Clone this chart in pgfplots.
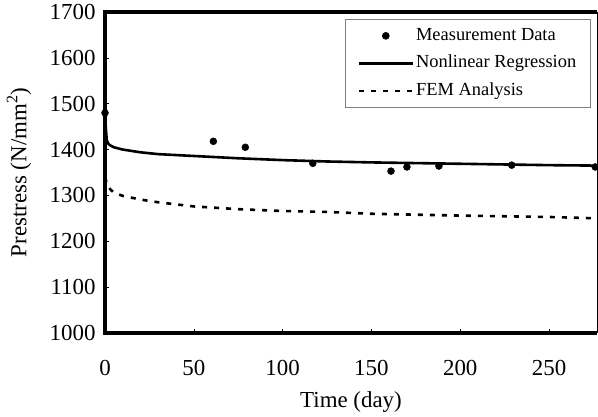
\documentclass[border=0pt]{standalone}
\usepackage{fontspec}
\setmainfont{Liberation Serif}
\usepackage{pgfplots}
\pgfplotsset{compat=1.18}
\usetikzlibrary{calc}

\begin{document}
\begin{tikzpicture}
\begin{axis}[
    scale only axis, width=492bp, height=321bp,
    xmin=0, xmax=277, ymin=1000, ymax=1700,
    xtick={0,50,...,250}, ytick={1000,1100,...,1700},
    xtick pos=bottom, ytick pos=left,
    tick align=inside, major tick length=4bp,
    every tick/.style={black, line width=0.6bp},
    axis line style={draw=none},
    clip=false,
    font=\fontsize{23}{27}\selectfont,
    /pgf/number format/assume math mode=true,
    /pgf/number format/1000 sep={},
    xticklabel shift=24bp,
    yticklabel shift=6bp,
    xlabel={Time (day)},
    ylabel={Prestress (N/mm\textsuperscript{2})},
    xlabel style={at={(axis description cs:0.5,-0.233)}, anchor=base},
    ylabel style={at={(axis description cs:-0.16,0.5)}, anchor=base},
    legend style={at={(axis description cs:0.987,0.978)}, anchor=north east,
        draw=gray, line width=0.6bp, font=\fontsize{18.5}{22}\selectfont,
        inner xsep=12bp, inner ysep=6bp, row sep=6.5bp,
        nodes={inner xsep=2bp, inner ysep=2bp, text height=13bp, text depth=4bp},
        cells={anchor=west}},
    legend image code/.code={\draw[mark repeat=2,mark phase=2,#1] plot coordinates {(0bp,0bp) (27bp,0bp) (54bp,0bp)};},
]
% measured points
\addplot[black, only marks, mark=*, mark size=3.5bp] coordinates {
    (0,1480) (61,1418) (79,1405) (117,1370) (161,1353)
    (170,1362) (188,1364) (229,1366) (276,1362)
};
\addlegendentry{Measurement Data}

% regression curve
\addplot[black, line width=2.6bp] coordinates {
    (0,1480) (0.5,1445) (1,1420) (2,1412) (3,1409) (5,1405) (10,1400)
    (20,1394) (30,1390) (50,1386) (75,1381) (100,1377) (125,1374)
    (150,1372) (200,1369) (250,1366) (277,1365)
};
\addlegendentry{Nonlinear Regression}

% FEM result
\addplot[black, line width=2.6bp, dash pattern=on 5bp off 7bp] coordinates {
    (0,1340) (1,1327) (3,1313) (5,1306) (10,1299) (20,1291) (30,1285)
    (50,1276) (75,1270) (100,1266) (125,1264) (150,1260) (175,1258)
    (200,1256) (250,1253) (277,1250)
};
\addlegendentry{FEM Analysis}

\draw[line width=3.2bp] (rel axis cs:1,1) -- (rel axis cs:0,1) -- (rel axis cs:0,0) -- (rel axis cs:1,0);
\draw[line width=0.8bp] (rel axis cs:1,0) -- (rel axis cs:1,1);
\coordinate (bl) at (rel axis cs:0,0);
\coordinate (tr) at (rel axis cs:1,1);
\end{axis}
\pgfresetboundingbox
\path ($(bl)+(-105bp,-84bp)$) rectangle ($(tr)+(1bp,12bp)$);
\end{tikzpicture}
\end{document}
